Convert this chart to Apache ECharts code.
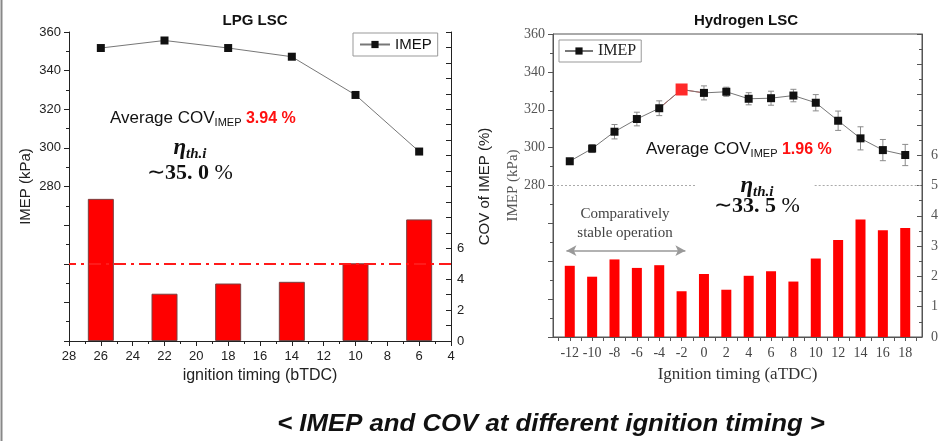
<!DOCTYPE html>
<html>
<head>
<meta charset="utf-8">
<script src="https://cdn.jsdelivr.net/npm/echarts@6/dist/echarts.min.js"></script>
<style>
  html, body { margin: 0; padding: 0; background: #fff; }
  #chart { width: 941px; height: 441px; }
</style>
</head>
<body>
<div id="chart"></div>
<script>
// LPG lean stratified combustion: ignition timing sweep (bTDC)
const lpgTiming = [26, 22, 18, 14, 10, 6];
const lpgImep = [351.7, 355.6, 351.7, 347.2, 327.4, 298.1];
const lpgCov = [9.2, 3.06, 3.72, 3.83, 5.03, 7.87];
const lpgCovLimit = 5;

// Hydrogen lean stratified combustion: ignition timing sweep (aTDC)
const h2Timing = [-12, -10, -8, -6, -4, -2, 0, 2, 4, 6, 8, 10, 12, 14, 16, 18];
const h2Imep = [292.8, 299.5, 308.4, 315.1, 320.8, 330.7, 328.9, 329.5, 325.8, 326.1, 327.5, 323.7, 314.2, 304.9, 298.7, 296.1];
const h2ImepErr = [1.0, 2.1, 3.8, 3.6, 3.9, 0, 3.7, 2.4, 3.2, 3.7, 3.3, 4.3, 5.1, 6.1, 5.6, 5.6];
const h2Cov = [2.35, 1.99, 2.56, 2.28, 2.37, 1.51, 2.08, 1.56, 2.02, 2.17, 1.83, 2.59, 3.2, 3.88, 3.52, 3.6];
const h2PeakIndex = 5;
const h2StableRange = [-12.3, -1.66];

const SANS = 'Liberation Sans, Arial, sans-serif';
const SERIF = 'Liberation Serif, Times New Roman, serif';

const chart = echarts.init(document.getElementById('chart'), null, { renderer: 'canvas' });

// all integer positions for the minor ticks along the hydrogen timing axis
const h2TickPositions = [];
for (let v = -13; v <= 19; v++) h2TickPositions.push(v);

const errorBarItem = function (params, api) {
  const x = api.value(0);
  const lo = api.coord([x, api.value(1)]);
  const hi = api.coord([x, api.value(2)]);
  const cap = 3;
  const st = { stroke: '#8a8a8a', lineWidth: 1 };
  return {
    type: 'group',
    children: [
      { type: 'line', shape: { x1: lo[0], y1: lo[1], x2: hi[0], y2: hi[1] }, style: st },
      { type: 'line', shape: { x1: lo[0] - cap, y1: lo[1], x2: lo[0] + cap, y2: lo[1] }, style: st },
      { type: 'line', shape: { x1: hi[0] - cap, y1: hi[1], x2: hi[0] + cap, y2: hi[1] }, style: st }
    ]
  };
};

const option = {
  animation: false,
  backgroundColor: '#fff',
  title: [
    { text: 'LPG LSC', left: 250, top: 8, textAlign: 'center',
      textStyle: { fontFamily: SANS, fontWeight: 'bold', fontSize: 15, color: '#111' } },
    { text: 'Hydrogen LSC', left: 741, top: 8, textAlign: 'center',
      textStyle: { fontFamily: SANS, fontWeight: 'bold', fontSize: 15, color: '#111' } }
  ],
  legend: [
    { data: ['IMEP'], left: 353, top: 33, orient: 'horizontal',
      borderColor: '#999', borderWidth: 1, padding: [4, 6, 4, 6],
      itemWidth: 30, itemHeight: 9, itemGap: 4,
      textStyle: { fontFamily: SANS, fontSize: 15, color: '#111' } },
    { data: ['IMEP'], left: 559, top: 40, orient: 'horizontal',
      borderColor: '#999', borderWidth: 1, padding: [3, 5, 3, 5],
      itemWidth: 28, itemHeight: 9, itemGap: 4,
      textStyle: { fontFamily: SERIF, fontSize: 16, color: '#222' } }
  ],
  grid: [
    { left: 69, right: 490, top: 32, bottom: 100 },
    { left: 553, right: 16, top: 34, bottom: 104, show: true, borderColor: '#555', borderWidth: 1 }
  ],
  xAxis: [
    {
      gridIndex: 0, type: 'value', min: 4, max: 28, interval: 2, inverse: true,
      axisLine: { show: true, onZero: false, lineStyle: { color: '#222', width: 1 } },
      axisTick: { show: true, length: 5, lineStyle: { color: '#222' } },
      minorTick: { show: true, splitNumber: 2, length: 3, lineStyle: { color: '#222' } },
      splitLine: { show: false }, minorSplitLine: { show: false },
      axisLabel: { fontFamily: SANS, fontSize: 13, color: '#222', margin: 9 },
      name: 'ignition timing (bTDC)', nameLocation: 'middle', nameGap: 24,
      nameTextStyle: { fontFamily: SANS, fontSize: 16, color: '#222' }
    },
    {
      gridIndex: 1, type: 'value', min: -13.5, max: 19.5,
      axisLine: { show: true, onZero: false, lineStyle: { color: '#555', width: 1 } },
      axisTick: { show: true, length: 4, customValues: h2TickPositions, lineStyle: { color: '#555' } },
      splitLine: { show: false },
      axisLabel: { customValues: h2Timing, fontFamily: SERIF, fontSize: 14, color: '#444', margin: 9 },
      name: 'Ignition timing (aTDC)', nameLocation: 'middle', nameGap: 29,
      nameTextStyle: { fontFamily: SERIF, fontSize: 17, color: '#333' }
    }
  ],
  yAxis: [
    {
      gridIndex: 0, type: 'value', min: 200, max: 360, interval: 20, position: 'left',
      axisLine: { show: true, onZero: false, lineStyle: { color: '#222', width: 1 } },
      axisTick: { show: true, length: 5, lineStyle: { color: '#222' } },
      minorTick: { show: true, splitNumber: 2, length: 3, lineStyle: { color: '#222' } },
      splitLine: { show: false }, minorSplitLine: { show: false },
      axisLabel: { fontFamily: SANS, fontSize: 13, color: '#222', margin: 8,
        formatter: v => (v >= 280 ? String(v) : '') },
      name: 'IMEP (kPa)', nameLocation: 'middle', nameGap: 36, nameRotate: 90,
      nameTextStyle: { fontFamily: SANS, fontSize: 15, color: '#222' }
    },
    {
      gridIndex: 0, type: 'value', min: 0, max: 20, interval: 1, position: 'right',
      axisLine: { show: true, onZero: false, lineStyle: { color: '#222', width: 1 } },
      axisTick: { show: true, inside: true, length: 5, lineStyle: { color: '#222' } },
      splitLine: { show: false },
      axisLabel: { fontFamily: SANS, fontSize: 13, color: '#222', margin: 6,
        formatter: v => (v <= 6 && v % 2 === 0 ? String(v) : '') },
      name: 'COV of IMEP (%)', nameLocation: 'middle', nameGap: 26, nameRotate: 90,
      nameTextStyle: { fontFamily: SANS, fontSize: 15, color: '#222' }
    },
    {
      gridIndex: 1, type: 'value', min: 200, max: 360, interval: 20, position: 'left',
      axisLine: { show: true, onZero: false, lineStyle: { color: '#555', width: 1 } },
      axisTick: { show: true, length: 5, lineStyle: { color: '#555' } },
      minorTick: { show: true, splitNumber: 2, length: 3, lineStyle: { color: '#555' } },
      splitLine: { show: false }, minorSplitLine: { show: false },
      axisLabel: { fontFamily: SERIF, fontSize: 14, color: '#555', margin: 8,
        formatter: v => (v >= 280 ? String(v) : '') },
      name: 'IMEP (kPa)', nameLocation: 'middle', nameGap: 31, nameRotate: 90,
      nameTextStyle: { fontFamily: SERIF, fontSize: 15, color: '#555' }
    },
    {
      gridIndex: 1, type: 'value', min: 0, max: 10, interval: 1, position: 'right',
      axisLine: { show: true, onZero: false, lineStyle: { color: '#555', width: 1 } },
      axisTick: { show: true, inside: true, length: 5, lineStyle: { color: '#555' } },
      minorTick: { show: true, splitNumber: 2, length: 3, lineStyle: { color: '#555' } },
      splitLine: { show: false }, minorSplitLine: { show: false },
      axisLabel: { fontFamily: SERIF, fontSize: 14, color: '#555', margin: 9,
        formatter: v => (v <= 6 ? String(v) : '') }
    }
  ],
  series: [
    {
      name: 'COV LPG', type: 'bar', xAxisIndex: 0, yAxisIndex: 1, barWidth: 26, z: 2,
      data: lpgTiming.map((t, i) => [t, lpgCov[i]]),
      itemStyle: { color: '#ff0000', borderColor: '#7a4040', borderWidth: 1 },
      markLine: {
        silent: true, symbol: 'none', label: { show: false },
        lineStyle: { color: '#ff1a1a', width: 2, type: [12, 5, 3, 5] },
        data: [{ yAxis: lpgCovLimit }]
      }
    },
    {
      name: 'IMEP', type: 'line', xAxisIndex: 0, yAxisIndex: 0, z: 5,
      data: lpgTiming.map((t, i) => [t, lpgImep[i]]),
      symbol: 'rect', symbolSize: 8,
      itemStyle: { color: '#111' },
      lineStyle: { color: '#777', width: 1 }
    },
    {
      name: 'COV H2', type: 'bar', xAxisIndex: 1, yAxisIndex: 3, barWidth: 10, z: 2,
      data: h2Timing.map((t, i) => [t, h2Cov[i]]),
      itemStyle: { color: '#ff0000' },
      markLine: {
        silent: true, symbol: ['arrow', 'arrow'], symbolSize: [8, 10], label: { show: false },
        lineStyle: { color: '#999', width: 1.5, type: 'solid' },
        data: [[{ coord: [h2StableRange[0], 2.85] }, { coord: [h2StableRange[1], 2.85] }]]
      }
    },
    {
      name: 'IMEP error', type: 'custom', xAxisIndex: 1, yAxisIndex: 2, z: 3,
      renderItem: errorBarItem,
      encode: { x: 0, y: [1, 2] },
      data: h2Timing.map((t, i) => [t, h2Imep[i] - h2ImepErr[i], h2Imep[i] + h2ImepErr[i]])
    },
    {
      name: 'IMEP', type: 'line', xAxisIndex: 1, yAxisIndex: 2, z: 5,
      data: h2Timing.map((t, i) => (i === h2PeakIndex
        ? { value: [t, h2Imep[i]], symbolSize: 12, itemStyle: { color: '#ff2a2a' } }
        : [t, h2Imep[i]])),
      symbol: 'rect', symbolSize: 8,
      itemStyle: { color: '#111' },
      lineStyle: { color: '#777', width: 1 },
      markLine: {
        silent: true, symbol: 'none', label: { show: false },
        lineStyle: { color: '#aaa', width: 1, type: [2, 2] },
        data: [
          [{ coord: [-13.5, 280] }, { coord: [-0.65, 280] }],
          [{ coord: [9.9, 280] }, { coord: [19.5, 280] }]
        ]
      }
    },
    {
      name: 'IMEP peak segment', type: 'line', xAxisIndex: 1, yAxisIndex: 2, z: 4,
      data: h2Timing.slice(h2PeakIndex - 1, h2PeakIndex + 2).map((t, k) => [t, h2Imep[h2PeakIndex - 1 + k]]),
      symbol: 'none', lineStyle: { color: '#f05050', width: 1 }
    }
  ],
  graphic: [
    { type: 'line', shape: { x1: 1.5, y1: 0, x2: 1.5, y2: 441 }, style: { stroke: '#888', lineWidth: 2 } },
    {
      type: 'text', x: 110, y: 118,
      style: {
        text: '{a|Average COV}{s|IMEP}{r| 3.94 %}', verticalAlign: 'middle',
        rich: {
          a: { fontFamily: SANS, fontSize: 17, fill: '#111', verticalAlign: 'bottom' },
          s: { fontFamily: SANS, fontSize: 11, fill: '#111', verticalAlign: 'bottom', padding: [0, 0, -2, 0] },
          r: { fontFamily: SANS, fontSize: 16, fontWeight: 'bold', fill: '#ff1010', verticalAlign: 'bottom' }
        }
      }
    },
    {
      type: 'text', x: 190, y: 148,
      style: {
        text: '{e|η}{t|th.i}', align: 'center', verticalAlign: 'middle',
        rich: {
          e: { fontFamily: SERIF, fontSize: 23, fontWeight: 'bold', fontStyle: 'italic', fill: '#111', verticalAlign: 'bottom' },
          t: { fontFamily: SERIF, fontSize: 15, fontWeight: 'bold', fontStyle: 'italic', fill: '#111', verticalAlign: 'bottom', padding: [0, 0, -2, 0] }
        }
      }
    },
    {
      type: 'text', x: 190, y: 173,
      style: {
        text: '{n|∼}{b|35. 0}{n| %}', align: 'center', verticalAlign: 'middle',
        rich: {
          n: { fontFamily: SERIF, fontSize: 22, fill: '#111' },
          b: { fontFamily: SERIF, fontSize: 22, fontWeight: 'bold', fill: '#111' }
        }
      }
    },
    {
      type: 'text', x: 646, y: 149,
      style: {
        text: '{a|Average COV}{s|IMEP}{r| 1.96 %}', verticalAlign: 'middle',
        rich: {
          a: { fontFamily: SANS, fontSize: 17, fill: '#111', verticalAlign: 'bottom' },
          s: { fontFamily: SANS, fontSize: 11, fill: '#111', verticalAlign: 'bottom', padding: [0, 0, -2, 0] },
          r: { fontFamily: SANS, fontSize: 16, fontWeight: 'bold', fill: '#ff1010', verticalAlign: 'bottom' }
        }
      }
    },
    {
      type: 'text', x: 757, y: 186,
      style: {
        text: '{e|η}{t|th.i}', align: 'center', verticalAlign: 'middle',
        rich: {
          e: { fontFamily: SERIF, fontSize: 23, fontWeight: 'bold', fontStyle: 'italic', fill: '#111', verticalAlign: 'bottom' },
          t: { fontFamily: SERIF, fontSize: 15, fontWeight: 'bold', fontStyle: 'italic', fill: '#111', verticalAlign: 'bottom', padding: [0, 0, -2, 0] }
        }
      }
    },
    {
      type: 'text', x: 757, y: 206,
      style: {
        text: '{n|∼}{b|33. 5}{n| %}', align: 'center', verticalAlign: 'middle',
        rich: {
          n: { fontFamily: SERIF, fontSize: 22, fill: '#111' },
          b: { fontFamily: SERIF, fontSize: 22, fontWeight: 'bold', fill: '#111' }
        }
      }
    },
    {
      type: 'text', x: 625, y: 214,
      style: { text: 'Comparatively', align: 'center', verticalAlign: 'middle',
        font: '15px ' + SERIF, fill: '#444' }
    },
    {
      type: 'text', x: 625, y: 233,
      style: { text: 'stable operation', align: 'center', verticalAlign: 'middle',
        font: '15px ' + SERIF, fill: '#444' }
    },
    {
      type: 'text', x: 551, y: 425, scaleX: 1.12,
      style: { text: '< IMEP and COV at different ignition timing >', align: 'center', verticalAlign: 'middle',
        font: 'italic bold 23px ' + SANS, fill: '#111' }
    }
  ]
};

chart.setOption(option);
</script>
</body>
</html>
